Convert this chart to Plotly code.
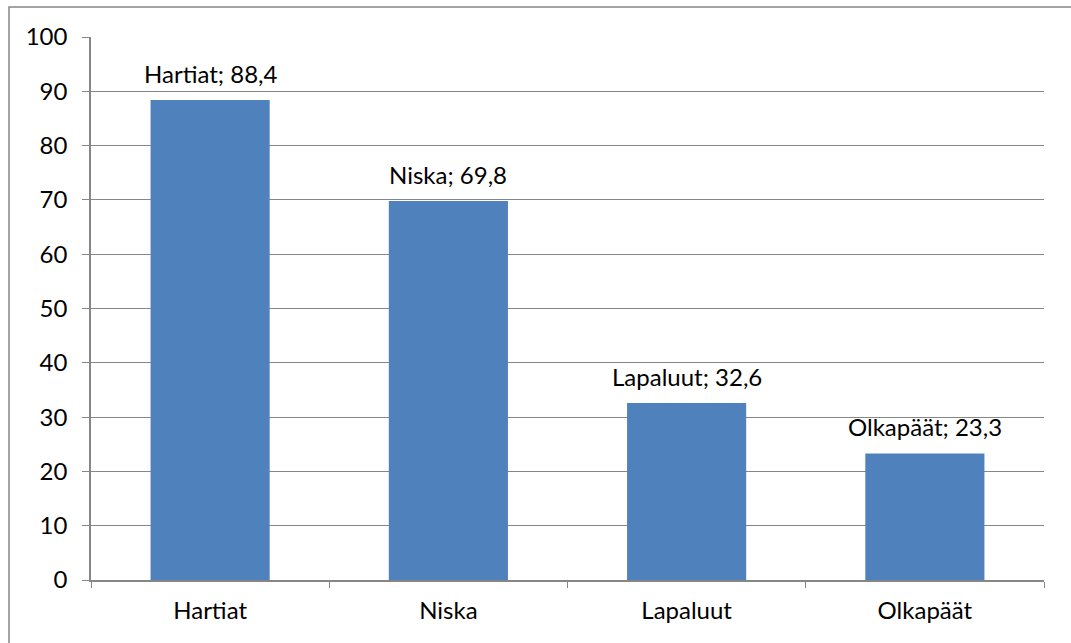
import plotly.graph_objects as go

categories = ["Hartiat", "Niska", "Lapaluut", "Olkapäät"]
values = [88.4, 69.8, 32.6, 23.3]
y_ticks = list(range(0, 101, 10))

labels = [f"{c}; {str(v).replace('.', ',')}" for c, v in zip(categories, values)]

W, H = 1071, 643
L, R, T, B = 91, 27, 37, 63
pw, ph = W - L - R, H - T - B

def px(x):
    return (x - L) / pw

def py(y):
    return (H - B - y) / ph

FONT = "Lato, Open Sans, sans-serif"
FS = 24

fig = go.Figure(go.Bar(
    x=categories, y=values,
    marker=dict(color="#4F81BD", line=dict(width=0)),
))

for c, v, lab in zip(categories, values, labels):
    fig.add_annotation(x=c, y=v, text=lab, showarrow=False, yanchor="bottom",
                       yshift=10, font=dict(size=FS, color="#000000", family=FONT))

axis_gray = "#868686"
fig.update_layout(
    width=W, height=H,
    margin=dict(l=L, r=R, t=T, b=B),
    paper_bgcolor="white", plot_bgcolor="white",
    font=dict(family=FONT, size=FS, color="#000000"),
    bargap=0.5,
    showlegend=False,
    xaxis=dict(
        showline=True, linecolor=axis_gray, linewidth=1.5,
        ticks="outside", tickson="boundaries", ticklen=6, tickcolor=axis_gray,
        showgrid=False, tickfont=dict(size=FS), ticklabelstandoff=8,
    ),
    yaxis=dict(
        range=[0, 100], tickvals=y_ticks, showline=True, linecolor=axis_gray, linewidth=1.5,
        ticks="outside", ticklen=7, tickcolor=axis_gray,
        showgrid=True, gridcolor=axis_gray, gridwidth=1, zeroline=False,
        tickfont=dict(size=FS), ticklabelstandoff=10,
    ),
    shapes=[dict(
        type="rect", xref="paper", yref="paper",
        x0=px(9), x1=px(1090), y0=py(660), y1=py(7),
        line=dict(color="#868686", width=1.5), fillcolor="rgba(0,0,0,0)", layer="below",
    )],
)

fig.write_html("out.html")
